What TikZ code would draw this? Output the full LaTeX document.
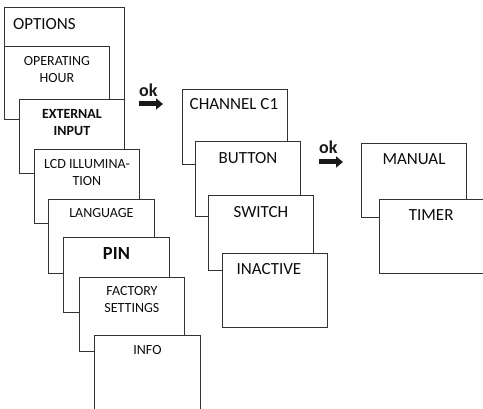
\documentclass[tikz,border=0pt]{standalone}
\usepackage{fontspec}
\setmainfont{Carlito}
\usetikzlibrary{arrows.meta}
\begin{document}
\begin{tikzpicture}[x=1pt,y=-1pt,
  box/.style={draw=black!80, line width=0.9pt, fill=white, inner sep=0pt, anchor=north west},
  big/.style={font=\fontsize{17}{20}\selectfont, text=black!95, inner sep=0pt, anchor=base},
  small/.style={font=\fontsize{14}{17.5}\selectfont, text=black!95, inner sep=0pt, anchor=base, align=center},
  okarrow/.style={draw=black!90, line width=5pt, -{Triangle[length=7pt,width=11pt]}, shorten >=0pt},
  oklbl/.style={font=\fontsize{18}{20}\selectfont\bfseries, text=black!90, inner sep=0pt, anchor=base west}
]
\useasboundingbox (0,0) rectangle (483,409);
% left stack
\node[box, minimum width=120pt, minimum height=112pt] (opt) at (4,7) {};
\node[big, anchor=base west] (optl) at (13,30) {OPTIONS};
\node[box, minimum width=105pt, minimum height=73pt] (oph) at (4,46) {};
\node[small] (ophl) at ([yshift=-37pt]oph.north) {OPERATING\\HOUR};
\node[box, minimum width=105pt, minimum height=74pt] (ext) at (19,99) {};
\node[small, font=\fontsize{14}{17.5}\selectfont\bfseries] (extl) at ([yshift=-37pt]ext.north) {EXTERNAL\\INPUT};
\node[box, minimum width=105pt, minimum height=74pt] (lcd) at (34,149) {};
\node[small] (lcdl) at ([yshift=-37pt]lcd.north) {LCD ILLUMINA-\\TION};
\node[box, minimum width=106pt, minimum height=74pt] (lang) at (48,199) {};
\node[small] (langl) at ([yshift=-19pt]lang.north) {LANGUAGE};
\node[box, minimum width=106pt, minimum height=75pt] (pin) at (63,237) {};
\node[big, font=\fontsize{18.5}{20}\selectfont\bfseries] (pinl) at ([yshift=-23pt]pin.north) {PIN};
\node[box, minimum width=105pt, minimum height=74pt] (fact) at (79,277) {};
\node[small] (factl) at ([yshift=-36pt]fact.north) {FACTORY\\SETTINGS};
\node[box, draw=none, minimum width=106pt, minimum height=74pt] (info) at (94,335) {};
\draw[draw=black!80, line width=0.9pt] (info.south west) -- (info.north west) -- (info.north east) -- (info.south east);
\node[small] (infol) at ([yshift=-20pt]info.north) {INFO};
% middle stack
\node[box, minimum width=105pt, minimum height=75pt] (ch) at (182,89) {};
\node[big] (chl) at ([yshift=-21pt,xshift=-1pt]ch.north) {CHANNEL C1};
\node[box, minimum width=105pt, minimum height=75pt] (btn) at (195,141) {};
\node[big] (btnl) at ([yshift=-23pt]btn.north) {BUTTON};
\node[box, minimum width=105pt, minimum height=75pt] (sw) at (208,195) {};
\node[big] (swl) at ([yshift=-23pt]sw.north) {SWITCH};
\node[box, minimum width=105pt, minimum height=74pt] (ina) at (222,253) {};
\node[big] (inal) at ([yshift=-22pt,xshift=-6pt]ina.north) {INACTIVE};
% right stack
\node[box, minimum width=105pt, minimum height=74pt] (man) at (361,143) {};
\node[big] (manl) at ([yshift=-22pt]man.north) {MANUAL};
\node[box, minimum width=103.5pt, minimum height=74pt] (tim) at (379,199) {};
\node[big] (timl) at ([yshift=-22pt]tim.north) {TIMER};
% ok arrows
\coordinate (ok1s) at (139,104);
\coordinate (ok1e) at (163,104);
\draw[okarrow] (ok1s) -- (ok1e);
\node[oklbl] (ok1l) at (139,97) {ok};
\coordinate (ok2s) at (319,162);
\coordinate (ok2e) at (343,162);
\draw[okarrow] (ok2s) -- (ok2e);
\node[oklbl] (ok2l) at (319,154) {ok};
\end{tikzpicture}
\end{document}
